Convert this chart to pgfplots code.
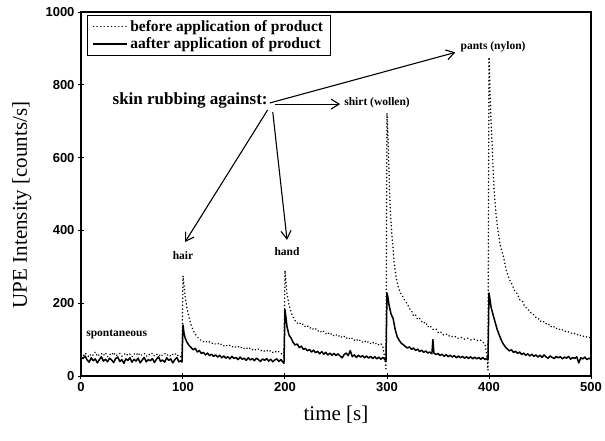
\documentclass[border=0pt]{standalone}
\usepackage{fontspec}
\setmainfont{Liberation Serif}
\newfontfamily\arialf{Liberation Sans}
\usepackage{pgfplots}
\pgfplotsset{compat=1.18}
\usetikzlibrary{arrows.meta}
\begin{document}
\begin{tikzpicture}
\path[use as bounding box] (-81pt,-64pt) rectangle (524pt,376pt);
\begin{axis}[
 at={(0,0)}, anchor=south west, scale only axis, width=510pt, height=364pt,
 xmin=0, xmax=500, ymin=0, ymax=1000,
 xtick={0,100,200,300,400,500}, ytick={0,200,400,600,800,1000},
 xtick pos=bottom, ytick pos=left, tick align=center, major tick length=6pt,
 axis line style={line width=1.2pt}, tick style={line width=1pt, black},
 ticklabel style={font=\arialf\bfseries\fontsize{13}{13}\selectfont},
 /pgf/number format/assume math mode=true,
 /pgf/number format/1000 sep={},
 xlabel={time [s]}, ylabel={UPE Intensity [counts/s]},
 label style={font=\fontsize{21}{21}\selectfont},
 xlabel style={at={(axis description cs:0.5,-0.107)}, anchor=center},
 ylabel style={at={(axis description cs:-0.116,0.47)}, anchor=center},
 legend style={at={(axis description cs:0.012,0.992)}, anchor=north west, draw=black, line width=1pt,
   font=\bfseries\fontsize{15.5}{17}\selectfont, cells={anchor=west}, inner xsep=5pt, inner ysep=3pt, row sep=1pt},
 legend image code/.code={\draw[#1] (0pt,0pt) -- (34pt,0pt);},
]
\addplot[black, line width=1.7pt, line cap=round, dash pattern=on 0.01pt off 3.6pt] coordinates {
(0,60)(2,55)(4,63)(6,58)(8,52)(10,61)(12,57)(14,66)(16,54)(18,59)(20,62)(22,56)(24,64)(26,53)(28,60)(30,57)(32,65)(34,55)(36,59)(38,62)(40,54)(42,58)(44,63)(46,56)(48,60)(50,53)(52,61)(54,57)(56,64)(58,55)(60,59)(62,62)(64,54)(66,60)(68,57)(70,63)(72,55)(74,59)(76,61)(78,53)(80,58)(82,62)(84,56)(86,60)(88,54)(90,59)(92,63)(94,55)(96,58)(98,52)(99,50)
(100,275)(101,250)(102,220)(104,185)(106,160)(108,140)(110,125)(112,115)(114,107)(116,102)(118,97)
(120,94)(122,97)(124,91)(126,94)(128,89)(130,92)(132,87)(134,90)(136,85)(138,88)(140,83)(142,86)(144,81)(146,84)(148,79)(150,83)(152,78)(154,81)(156,76)(158,80)(160,75)(162,78)(164,73)(166,77)(168,72)(170,75)(172,70)(174,74)(176,69)(178,72)(180,68)(182,71)(184,66)(186,70)(188,65)(190,69)(192,64)(194,67)(196,62)(198,60)(199,55)
(200,290)(201,255)(202,225)(204,195)(206,175)(208,162)(210,152)(212,145)(214,148)(216,140)(218,143)(220,135)(222,138)(224,131)(226,134)(228,127)(230,130)(232,123)(234,126)(236,119)(238,123)(240,116)(242,120)(244,113)(246,117)(248,110)(250,114)(252,108)(254,112)(256,105)(258,109)(260,103)(262,107)(264,100)(266,104)(268,98)(270,102)(272,95)(274,99)(276,93)(278,97)(280,91)(282,95)(284,89)(286,93)(288,87)(290,91)(292,85)(294,89)(296,80)(298,45)(299,20)
(300,722)(301,650)(302,560)(303,470)(304,420)(305,380)(306,350)(307,310)(309,270)(311,245)(313,230)(316,215)(318,205)(320,198)(322,185)(324,180)(326,165)(328,168)(330,155)(332,158)(335,145)(338,148)(340,135)(342,139)(345,128)(348,130)(350,120)(352,123)(355,113)(358,116)(360,109)(362,112)(365,106)(368,109)(370,103)(373,106)(376,101)(379,104)(382,99)(385,102)(388,97)(391,100)(394,93)(396,88)(398,55)(399,16)
(400,876)(401,780)(402,700)(403,640)(404,570)(405,510)(407,440)(409,395)(411,360)(414,330)(417,290)(420,265)(422,255)(425,235)(428,225)(430,210)(433,205)(435,190)(438,185)(440,175)(443,172)(445,162)(448,160)(450,150)(453,152)(455,143)(458,145)(460,135)(463,138)(465,130)(468,132)(470,125)(473,128)(476,120)(479,122)(482,115)(485,118)(488,110)(491,113)(494,106)(497,109)(500,103)
};
\addlegendentry{before application of product}
\addplot[black, line width=1.5pt, line join=round] coordinates {
(0,52)(2,48)(4,55)(6,44)(8,38)(10,50)(12,42)(14,47)(16,36)(18,45)(20,53)(22,41)(24,46)(26,39)(28,49)(30,44)(32,37)(34,48)(36,52)(38,40)(40,45)(42,35)(44,47)(46,43)(48,50)(50,38)(52,46)(54,41)(56,49)(58,36)(60,44)(62,51)(64,39)(66,45)(68,42)(70,48)(72,37)(74,46)(76,53)(78,40)(80,44)(82,38)(84,50)(86,43)(88,47)(90,36)(92,45)(94,51)(96,39)(98,42)(99,38)
(100,140)(101,118)(102,105)(104,92)(106,84)(108,78)(110,72)(112,76)(114,66)(116,70)(118,62)(120,65)(122,58)(124,63)(126,56)(128,60)(130,54)(132,58)(134,52)(136,57)(138,50)(140,55)(142,49)(144,53)(146,47)(148,54)(150,48)(152,51)(154,45)(156,52)(158,46)(160,49)(162,43)(164,50)(166,44)(168,48)(170,42)(172,49)(174,45)(176,40)(178,47)(180,43)(182,48)(184,41)(186,46)(188,39)(190,44)(192,47)(194,40)(196,45)(198,38)(199,35)
(200,182)(201,160)(202,135)(204,112)(206,104)(208,92)(210,85)(212,88)(214,78)(216,82)(218,73)(220,76)(222,69)(224,73)(226,66)(228,71)(230,64)(232,68)(234,61)(236,67)(238,60)(240,65)(242,58)(244,63)(246,57)(248,62)(250,56)(252,61)(254,55)(256,50)(258,59)(260,63)(262,56)(264,70)(266,53)(268,58)(270,51)(272,57)(274,52)(276,56)(278,50)(280,55)(282,49)(284,54)(286,48)(288,53)(290,47)(292,52)(294,46)(296,51)(298,45)(299,40)
(300,228)(301,215)(302,195)(304,170)(306,158)(308,128)(310,108)(312,98)(314,90)(316,86)(318,81)(320,77)(322,80)(324,73)(326,77)(328,70)(330,74)(332,67)(334,71)(336,65)(338,69)(340,63)(342,66)(344,61)(345,100)(346,63)(348,59)(350,62)(352,56)(354,60)(356,54)(358,59)(360,53)(362,57)(364,52)(366,56)(368,50)(370,55)(372,50)(374,54)(376,49)(378,53)(380,48)(382,53)(384,47)(386,52)(388,47)(390,51)(392,46)(394,51)(396,45)(398,49)(399,44)
(400,228)(401,210)(402,190)(404,168)(406,148)(408,128)(410,113)(412,99)(414,88)(416,80)(418,74)(420,69)(422,72)(424,65)(426,68)(428,62)(430,66)(432,59)(434,63)(436,57)(438,61)(440,55)(442,60)(444,54)(446,58)(448,52)(450,57)(452,51)(454,58)(456,52)(458,49)(460,55)(462,51)(464,48)(466,54)(468,50)(470,53)(472,47)(474,52)(476,49)(478,54)(480,46)(482,51)(484,48)(486,53)(488,36)(490,50)(492,47)(494,52)(496,45)(498,49)(500,46)
};
\addlegendentry{aafter application of product}
\node[font=\bfseries\fontsize{17}{17}\selectfont] at (axis cs:107,758) {skin rubbing against:};
\draw[line width=1.1pt, -{Straight Barb[length=8pt,width=10pt]}] (axis cs:185,750) -- (axis cs:367,889);
\draw[line width=1.1pt, -{Straight Barb[length=8pt,width=10pt]}] (axis cs:190,747) -- (axis cs:254,747);
\draw[line width=1.1pt, -{Straight Barb[length=8pt,width=10pt]}] (axis cs:183,731) -- (axis cs:102,368);
\draw[line width=1.1pt, -{Straight Barb[length=8pt,width=10pt]}] (axis cs:188,725) -- (axis cs:202,374);
\node[font=\bfseries\fontsize{11.5}{12}\selectfont] at (axis cs:404,904) {pants (nylon)};
\node[font=\bfseries\fontsize{11.5}{12}\selectfont, anchor=west, inner sep=1pt] at (axis cs:257,750) {shirt (wollen)};
\node[font=\bfseries\fontsize{11.5}{12}\selectfont] at (axis cs:100,330) {hair};
\node[font=\bfseries\fontsize{11.5}{12}\selectfont] at (axis cs:202,341) {hand};
\node[font=\bfseries\fontsize{11.5}{12}\selectfont] at (axis cs:35,113) {spontaneous};
\end{axis}
\end{tikzpicture}
\end{document}
